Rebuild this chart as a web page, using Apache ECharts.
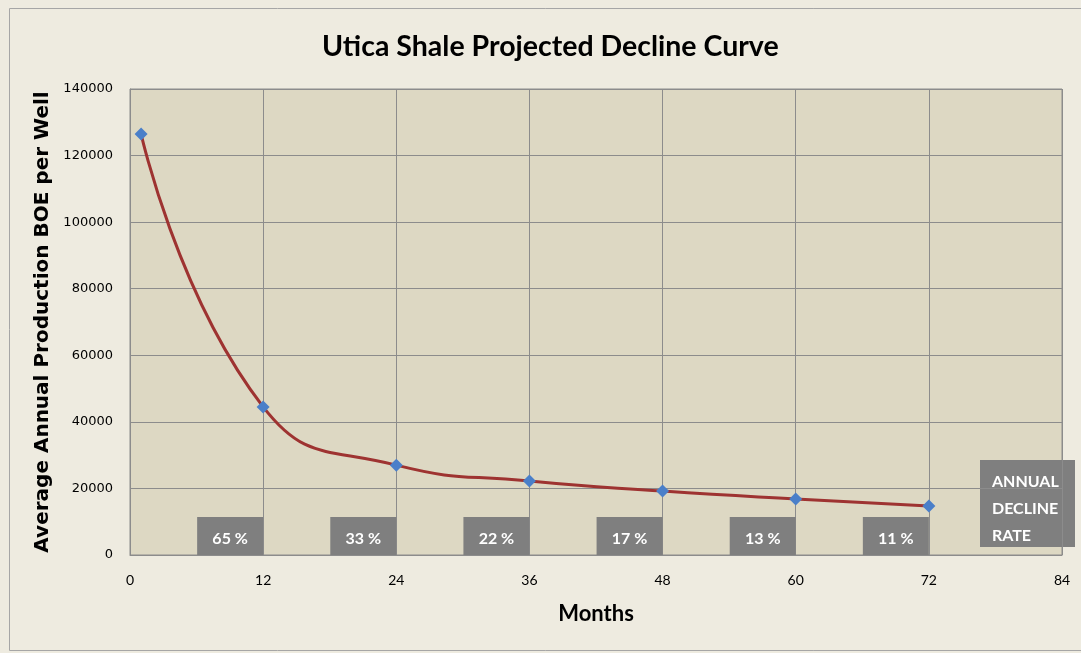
<!DOCTYPE html>
<html>
<head>
<meta charset="utf-8">
<title>Utica Shale Projected Decline Curve</title>
<script src="https://cdn.jsdelivr.net/npm/echarts@6/dist/echarts.min.js"></script>
<style>
  html, body { margin: 0; padding: 0; background: #EEEBE0; }
  #chart1 { width: 1081px; height: 653px; }
</style>
</head>
<body>
<div id="chart1"></div>
<script>
// data
var months = [1, 12, 24, 36, 48, 60, 72];
var production = [126500, 44500, 27000, 22200, 19200, 16800, 14700];
// annual decline rate, shown at the end of each year
var rateMonths = [12, 24, 36, 48, 60, 72];
var rateLabels = ['65 %', '33 %', '22 %', '17 %', '13 %', '11 %'];
var xTicks = [0, 12, 24, 36, 48, 60, 72, 84];

var gridColor = '#8C8C8C';

var chart = echarts.init(document.getElementById('chart1'));

var lineData = [];
for (var i = 0; i < months.length; i++) {
    lineData.push([months[i], production[i]]);
}
var rateData = [];
for (var j = 0; j < rateMonths.length; j++) {
    rateData.push([rateMonths[j], 0, rateLabels[j]]);
}

//灰色小方块 + 文字
function renderRate(params, api) {
    var end = api.coord([api.value(0), api.value(1)]);
    var w = 66, h = 38;
    return {
        type: 'group',
        children: [{
            type: 'rect',
            shape: { x: end[0] - w, y: end[1] - h, width: w, height: h },
            style: { fill: '#7F7F7F' }
        }, {
            type: 'text',
            style: {
                x: end[0] - w / 2,
                y: end[1] - h / 2 + 3,
                text: rateLabels[params.dataIndex],
                fill: '#FFFFFF',
                font: 'bold 16px Lato',
                align: 'center',
                verticalAlign: 'middle'
            }
        }]
    };
}

var option = {
    backgroundColor: '#EEEBE0',
    animation: false,
    title: {
        text: 'Utica Shale Projected Decline Curve',
        left: 317,
        top: 27,
        textStyle: {
            fontFamily: 'Lato',
            fontWeight: 'bold',
            fontSize: 28.5,
            color: '#000'
        }
    },
    grid: {
        left: 130,
        right: 19,
        top: 89,
        bottom: 98,
        show: true,
        backgroundColor: '#DDD8C3',
        borderColor: gridColor,
        borderWidth: 1
    },
    xAxis: {
        type: 'value',
        min: 0,
        max: 84,
        interval: 12,
        name: 'Months',
        nameLocation: 'middle',
        nameGap: 48,
        nameTextStyle: {
            fontFamily: 'Lato',
            fontWeight: 'bold',
            fontSize: 22,
            color: '#000'
        },
        axisLine: { show: true, lineStyle: { color: gridColor, width: 1 } },
        axisTick: { show: false },
        splitLine: { show: true, lineStyle: { color: gridColor, width: 1 } },
        axisLabel: {
            margin: 18,
            fontFamily: 'Lato',
            fontSize: 14,
            color: '#000',
            customValues: xTicks
        }
    },
    yAxis: {
        type: 'value',
        min: 0,
        max: 140000,
        interval: 20000,
        name: 'Average Annual Production BOE per Well',
        nameLocation: 'middle',
        nameGap: 68,
        nameTextStyle: {
            fontFamily: 'DejaVu Sans',
            fontWeight: 'bold',
            fontSize: 20,
            color: '#000'
        },
        axisLine: { show: true, lineStyle: { color: gridColor, width: 1 } },
        axisTick: { show: false },
        splitLine: { show: true, lineStyle: { color: gridColor, width: 1 } },
        axisLabel: {
            margin: 17,
            fontFamily: 'DejaVu Sans',
            fontSize: 13,
            color: '#000',
            formatter: function (v) { return String(v); }
        }
    },
    graphic: [{
        type: 'rect',
        left: 7,
        top: 6,
        shape: { width: 1100, height: 642 },
        style: { fill: 'none', stroke: '#A6A6A6', lineWidth: 1 },
        silent: true,
        z: -1
    }, {
        type: 'group',
        left: 980,
        top: 460,
        children: [{
            type: 'rect',
            shape: { x: 0, y: 0, width: 95, height: 87 },
            style: { fill: '#7F7F7F' }
        }, {
            type: 'text',
            style: {
                x: 12,
                y: 8,
                text: 'ANNUAL\nDECLINE\nRATE',
                fill: '#FFFFFF',
                font: 'bold 16px Lato',
                lineHeight: 27
            }
        }]
    }],
    series: [{
        type: 'line',
        data: lineData,
        smooth: 0.5,
        lineStyle: { color: '#9E3331', width: 3 },
        symbol: 'diamond',
        symbolSize: 13,
        itemStyle: { color: '#4A7FC9' },
        z: 3
    }, {
        type: 'custom',
        data: rateData,
        renderItem: renderRate,
        z: 2
    }]
};

chart.setOption(option);
</script>
</body>
</html>
